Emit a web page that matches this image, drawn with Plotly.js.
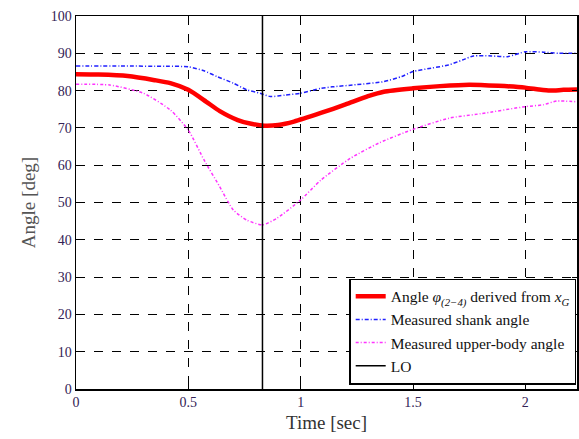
<!DOCTYPE html>
<html>
<head>
<meta charset="utf-8">
<script src="https://cdn.plot.ly/plotly-3.0.1.min.js"></script>
<style>html,body{margin:0;padding:0;background:#fff;}#chart{width:579px;height:439px;}</style>
</head>
<body>
<div id="chart"></div>
<script>
const timeRed = [0, 0.1, 0.23, 0.35, 0.42, 0.5, 0.58, 0.64, 0.72, 0.78, 0.84, 0.9, 0.97, 1.09, 1.2, 1.3, 1.37, 1.5, 1.62, 1.75, 1.88, 2.0, 2.06, 2.11, 2.17, 2.23];
const angleRed = [84.4, 84.3, 83.9, 82.8, 82.0, 80.2, 77.0, 74.5, 72.1, 71.1, 70.6, 70.8, 71.7, 74.0, 76.3, 78.5, 79.7, 80.6, 81.2, 81.6, 81.3, 80.8, 80.3, 80.0, 80.2, 80.3];
const timeBlue = [0, 0.2, 0.4, 0.5, 0.57, 0.63, 0.7, 0.76, 0.82, 0.865, 0.93, 1.0, 1.09, 1.14, 1.25, 1.37, 1.45, 1.5, 1.58, 1.66, 1.72, 1.77, 1.85, 1.92, 2.0, 2.08, 2.15, 2.23];
const angleBlue = [86.6, 86.6, 86.5, 86.4, 85.3, 83.7, 82.0, 80.2, 79.3, 78.4, 78.8, 79.3, 80.6, 81.0, 81.6, 82.4, 83.8, 85.1, 86.0, 86.9, 88.2, 89.3, 89.3, 89.1, 90.4, 90.3, 90.0, 90.0];
const timeMag = [0, 0.15, 0.3, 0.42, 0.5, 0.57, 0.64, 0.7, 0.76, 0.83, 0.895, 1.0, 1.09, 1.22, 1.35, 1.5, 1.66, 1.8, 2.0, 2.08, 2.14, 2.23];
const angleMag = [81.7, 81.5, 79.3, 74.8, 69.4, 61.4, 54.2, 48.0, 45.3, 44.0, 45.8, 50.7, 56.0, 61.8, 66.0, 69.6, 72.6, 73.8, 75.7, 76.2, 77.2, 77.0];
const loTime = [0.83, 0.83];
const loAngle = [0, 100];
const xTicks = [0, 0.5, 1, 1.5, 2];
const xTickLabels = ['0', '0.5', '1', '1.5', '2'];
const yTicks = [0, 10, 20, 30, 40, 50, 60, 70, 80, 90, 100];
const seriesNames = [
  'Angle <i>φ</i><sub><i>(2−4)</i></sub> derived from <i>x</i><sub><i>G</i></sub>',
  'Measured shank angle',
  'Measured upper-body angle',
  'LO'
];

const traces = [
  {x: timeRed, y: angleRed, name: seriesNames[0], mode: 'lines',
   line: {color: '#ff0000', width: 4.5, shape: 'spline', smoothing: 0.6}},
  {x: timeBlue, y: angleBlue, name: seriesNames[1], mode: 'lines',
   line: {color: '#2020ff', width: 1.5, dash: '4px,2px,1px,2px', shape: 'spline', smoothing: 0.6}},
  {x: timeMag, y: angleMag, name: seriesNames[2], mode: 'lines',
   line: {color: '#ff33ff', width: 1.5, dash: '3px,2px,1px,2px', shape: 'spline', smoothing: 0.6}},
  {x: loTime, y: loAngle, name: seriesNames[3], mode: 'lines',
   line: {color: '#000000', width: 1.5}}
];

const font = {family: '"Liberation Serif", "Times New Roman", serif', color: '#222'};
const layout = {
  width: 579, height: 439,
  margin: {l: 76, r: 2, t: 16, b: 50},
  paper_bgcolor: '#fff', plot_bgcolor: '#fff',
  font: font,
  showlegend: true,
  legend: {
    x: 0.999, y: 0.012, xanchor: 'right', yanchor: 'bottom',
    bgcolor: '#fff', bordercolor: '#000', borderwidth: 1.2,
    font: {family: font.family, size: 15.5, color: '#111'},
    tracegroupgap: 0, itemwidth: 30
  },
  xaxis: {
    range: [0, 2.23], tickvals: xTicks, ticktext: xTickLabels,
    showgrid: true, gridcolor: '#000', griddash: 'dash', gridwidth: 1,
    zeroline: false, showline: true, linecolor: '#000', linewidth: 1.5, mirror: 'ticks',
    ticks: 'inside', ticklen: 5, tickcolor: '#000',
    tickfont: {family: font.family, size: 14, color: '#332255'},
    title: {text: 'Time [sec]', font: {family: font.family, size: 19, color: '#333'}, standoff: 6}
  },
  yaxis: {
    range: [0, 100], tickvals: yTicks,
    showgrid: true, gridcolor: '#000', griddash: 'dash', gridwidth: 1,
    zeroline: false, showline: true, linecolor: '#000', linewidth: 1.5, mirror: 'ticks',
    ticks: 'inside', ticklen: 5, tickcolor: '#000',
    tickfont: {family: font.family, size: 14, color: '#332255'},
    title: {text: 'Angle [deg]', font: {family: font.family, size: 19, color: '#555'}, standoff: 10}
  }
};

Plotly.newPlot('chart', traces, layout, {displayModeBar: false, staticPlot: true});
</script>
</body>
</html>
